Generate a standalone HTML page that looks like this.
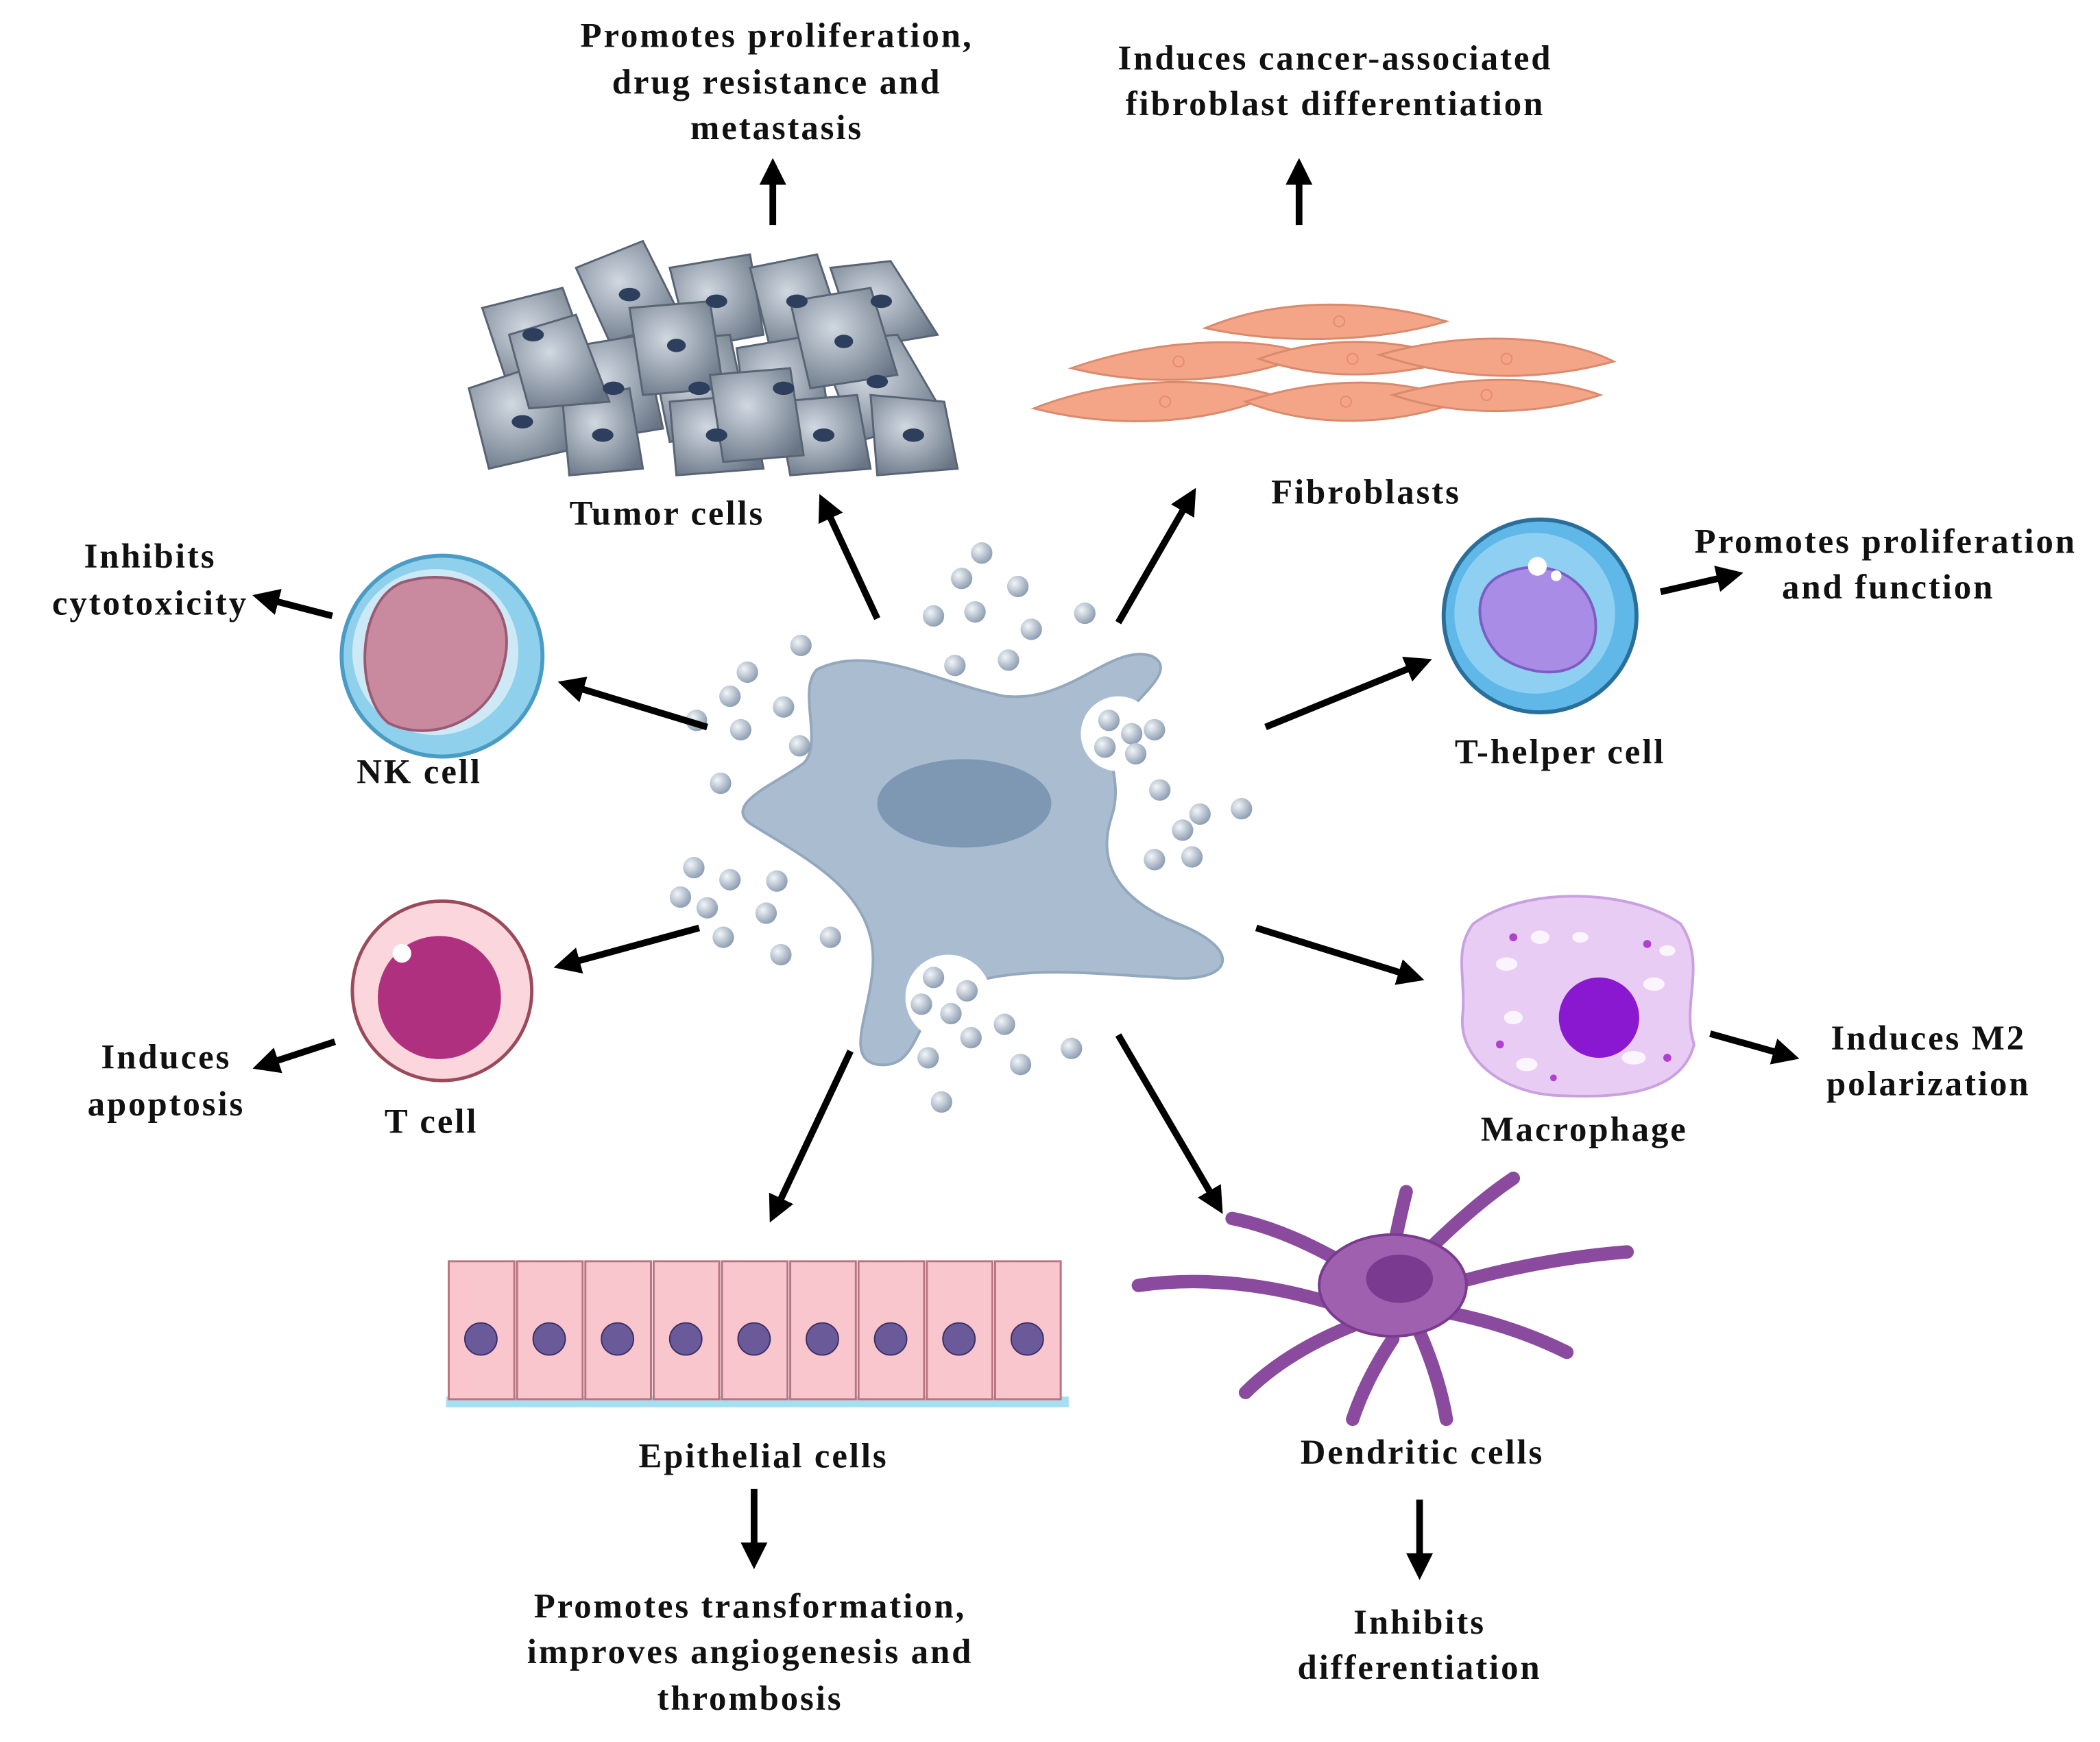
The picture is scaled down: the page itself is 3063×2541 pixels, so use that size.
<!DOCTYPE html>
<html><head><meta charset="utf-8"><style>
html,body{margin:0;padding:0;background:#fff}
svg{display:block}
text{font-family:"Liberation Serif",serif;font-weight:bold;font-size:26px;letter-spacing:1.5px;fill:#111;text-anchor:middle}
</style></head><body>
<svg width="3063" height="2541" viewBox="0 0 1568 1301" xmlns="http://www.w3.org/2000/svg">
<defs>
<marker id="ah" markerWidth="4" markerHeight="4" refX="2" refY="2" orient="auto" markerUnits="strokeWidth">
<path d="M0,0 L4,2 L0,4 z" fill="#000"/></marker>
<radialGradient id="ves" cx="0.35" cy="0.35" r="0.7"><stop offset="0" stop-color="#f2f5f8"/><stop offset="1" stop-color="#8a9bb0"/></radialGradient>
<radialGradient id="tum" cx="0.4" cy="0.4" r="0.7"><stop offset="0" stop-color="#c9d2dc"/><stop offset="1" stop-color="#4e5d70"/></radialGradient>
</defs>
<rect width="1568" height="1301" fill="#fff"/>

<!-- central cell -->
<path d="M610,500 C650,480 700,510 750,520 C800,525 830,480 860,490 C880,500 850,520 835,540 C820,560 840,580 830,610 C820,640 830,670 880,690 C930,710 920,735 870,730 C820,728 770,720 720,735 C680,750 690,800 655,795 C625,790 660,740 650,700 C640,660 600,640 560,615 C540,600 580,585 600,570 C615,555 595,515 610,500 Z" fill="#a9bcd0" stroke="#93a7bd" stroke-width="2"/>
<circle cx="835" cy="548" r="28" fill="#fff"/>
<circle cx="708" cy="745" r="32" fill="#fff"/>
<ellipse cx="720" cy="600" rx="65" ry="33" fill="#7e97b2"/>
<g fill="url(#ves)">
<circle cx="733" cy="413" r="8"/><circle cx="718" cy="432" r="8"/><circle cx="760" cy="438" r="8"/><circle cx="697" cy="460" r="8"/><circle cx="728" cy="457" r="8"/><circle cx="770" cy="470" r="8"/><circle cx="810" cy="458" r="8"/><circle cx="713" cy="497" r="8"/><circle cx="753" cy="493" r="8"/>
<circle cx="598" cy="482" r="8"/><circle cx="558" cy="502" r="8"/><circle cx="545" cy="520" r="8"/><circle cx="585" cy="528" r="8"/><circle cx="520" cy="538" r="8"/><circle cx="553" cy="545" r="8"/><circle cx="597" cy="557" r="8"/><circle cx="538" cy="585" r="8"/>
<circle cx="828" cy="538" r="8"/><circle cx="845" cy="548" r="8"/><circle cx="862" cy="545" r="8"/><circle cx="825" cy="558" r="8"/><circle cx="848" cy="563" r="8"/><circle cx="866" cy="590" r="8"/><circle cx="896" cy="608" r="8"/><circle cx="927" cy="604" r="8"/><circle cx="883" cy="620" r="8"/><circle cx="862" cy="642" r="8"/><circle cx="890" cy="640" r="8"/>
<circle cx="518" cy="648" r="8"/><circle cx="545" cy="657" r="8"/><circle cx="580" cy="658" r="8"/><circle cx="508" cy="670" r="8"/><circle cx="528" cy="678" r="8"/><circle cx="572" cy="682" r="8"/><circle cx="540" cy="700" r="8"/><circle cx="620" cy="700" r="8"/><circle cx="583" cy="713" r="8"/>
<circle cx="697" cy="730" r="8"/><circle cx="722" cy="740" r="8"/><circle cx="688" cy="750" r="8"/><circle cx="710" cy="757" r="8"/><circle cx="750" cy="765" r="8"/><circle cx="725" cy="775" r="8"/><circle cx="693" cy="790" r="8"/><circle cx="762" cy="795" r="8"/><circle cx="800" cy="783" r="8"/><circle cx="703" cy="823" r="8"/>
</g>

<!-- tumor cells -->
<g stroke="#3c4a5c" stroke-width="1.5" fill="url(#tum)" opacity="0.85">
<path d="M360,230 L420,215 L440,270 L380,290 Z"/><path d="M430,200 L480,180 L510,240 L455,255 Z"/><path d="M500,200 L560,190 L570,250 L515,260 Z"/><path d="M560,200 L610,190 L630,250 L575,260 Z"/><path d="M620,200 L665,195 L700,250 L640,260 Z"/>
<path d="M350,290 L410,270 L430,335 L365,350 Z"/><path d="M420,260 L480,250 L495,320 L435,330 Z"/><path d="M485,255 L545,250 L560,320 L500,330 Z"/><path d="M550,260 L610,250 L620,320 L560,330 Z"/><path d="M610,255 L670,250 L705,310 L640,330 Z"/>
<path d="M420,300 L470,290 L480,350 L425,355 Z"/><path d="M500,300 L560,295 L570,350 L505,355 Z"/><path d="M580,300 L640,295 L650,350 L590,355 Z"/><path d="M650,295 L705,300 L715,350 L655,355 Z"/>
<path d="M380,250 L430,235 L455,300 L395,305 Z"/><path d="M470,230 L530,225 L540,290 L480,295 Z"/><path d="M590,225 L650,215 L670,280 L605,290 Z"/><path d="M530,280 L590,275 L600,340 L540,345 Z"/>
</g>
<g fill="#2d3f5c">
<ellipse cx="398" cy="250" rx="8" ry="5"/><ellipse cx="470" cy="220" rx="8" ry="5"/><ellipse cx="535" cy="225" rx="8" ry="5"/><ellipse cx="595" cy="225" rx="8" ry="5"/><ellipse cx="658" cy="225" rx="8" ry="5"/><ellipse cx="390" cy="315" rx="8" ry="5"/><ellipse cx="458" cy="290" rx="8" ry="5"/><ellipse cx="522" cy="290" rx="8" ry="5"/><ellipse cx="585" cy="290" rx="8" ry="5"/><ellipse cx="655" cy="285" rx="8" ry="5"/><ellipse cx="450" cy="325" rx="8" ry="5"/><ellipse cx="535" cy="325" rx="8" ry="5"/><ellipse cx="615" cy="325" rx="8" ry="5"/><ellipse cx="682" cy="325" rx="8" ry="5"/><ellipse cx="505" cy="258" rx="7" ry="5"/><ellipse cx="630" cy="255" rx="7" ry="5"/>
</g>

<!-- fibroblasts -->
<g fill="#f4a587" stroke="#d98a6c" stroke-width="1.5">
<path d="M900,245 C960,220 1030,225 1080,240 C1030,255 960,258 900,245 Z"/>
<path d="M800,275 C870,250 950,252 975,265 C930,285 860,290 800,275 Z"/>
<path d="M940,268 C990,250 1040,252 1090,268 C1040,282 990,285 940,268 Z"/>
<path d="M1030,265 C1100,245 1170,252 1205,270 C1150,285 1090,285 1030,265 Z"/>
<path d="M772,305 C830,282 900,280 950,295 C900,318 830,320 772,305 Z"/>
<path d="M930,300 C990,280 1050,282 1090,300 C1040,318 980,320 930,300 Z"/>
<path d="M1040,295 C1100,278 1160,282 1195,295 C1150,310 1090,312 1040,295 Z"/>
</g>
<g fill="none" stroke="#e88a70"><circle cx="1000" cy="240" r="4"/><circle cx="880" cy="270" r="4"/><circle cx="1010" cy="268" r="4"/><circle cx="1125" cy="268" r="4"/><circle cx="870" cy="300" r="4"/><circle cx="1005" cy="300" r="4"/><circle cx="1110" cy="295" r="4"/></g>

<!-- NK cell -->
<circle cx="330" cy="490" r="75" fill="#8fd0ec" stroke="#4b9cc4" stroke-width="3"/>
<circle cx="325" cy="487" r="62" fill="#cde9f6"/>
<path d="M300,435 C350,420 390,450 375,500 C365,540 320,555 290,540 C265,520 265,450 300,435 Z" fill="#c98aa0" stroke="#9a5a74" stroke-width="2"/>
<!-- T-helper -->
<circle cx="1150" cy="460" r="72" fill="#5fb8e8" stroke="#2a6f9a" stroke-width="3"/>
<circle cx="1146" cy="458" r="60" fill="#8fd0f2"/>
<path d="M1120,430 C1160,410 1200,440 1190,480 C1180,510 1140,505 1120,490 C1100,470 1100,440 1120,430 Z" fill="#a98ce6" stroke="#7a5ec4" stroke-width="2"/>
<circle cx="1148" cy="423" r="7" fill="#fff"/><circle cx="1162" cy="430" r="4" fill="#fff"/>
<!-- T cell -->
<circle cx="330" cy="740" r="67" fill="#fbd6dc" stroke="#9a4a5a" stroke-width="2.5"/>
<circle cx="328" cy="745" r="46" fill="#b03080"/>
<circle cx="300" cy="712" r="7" fill="#fff"/>
<!-- Macrophage -->
<path d="M1100,690 C1140,660 1220,665 1255,690 C1275,720 1255,750 1265,780 C1255,820 1200,820 1160,818 C1120,815 1090,790 1092,760 C1095,730 1085,710 1100,690 Z" fill="#e8ccf4" stroke="#c9a0e0" stroke-width="2"/>
<g fill="#fff" opacity="0.8"><ellipse cx="1125" cy="720" rx="8" ry="5"/><ellipse cx="1150" cy="700" rx="7" ry="5"/><ellipse cx="1235" cy="735" rx="8" ry="5"/><ellipse cx="1220" cy="790" rx="9" ry="5"/><ellipse cx="1130" cy="760" rx="7" ry="5"/><ellipse cx="1180" cy="700" rx="6" ry="4"/><ellipse cx="1245" cy="710" rx="6" ry="4"/><ellipse cx="1140" cy="795" rx="8" ry="5"/></g>
<circle cx="1194" cy="760" r="30" fill="#8a18d0"/>
<g fill="#b040d0"><circle cx="1130" cy="700" r="3"/><circle cx="1230" cy="705" r="3"/><circle cx="1120" cy="780" r="3"/><circle cx="1245" cy="790" r="3"/><circle cx="1160" cy="805" r="2.5"/></g>
<!-- Epithelial -->
<rect x="333" y="1043" width="465" height="8" fill="#a8dff0"/>
<g fill="#f8c6cc" stroke="#b87480" stroke-width="1.5">
<rect x="335" y="942" width="49" height="103"/><rect x="386" y="942" width="49" height="103"/><rect x="437" y="942" width="49" height="103"/><rect x="488" y="942" width="49" height="103"/><rect x="539" y="942" width="49" height="103"/><rect x="590" y="942" width="49" height="103"/><rect x="641" y="942" width="49" height="103"/><rect x="692" y="942" width="49" height="103"/><rect x="743" y="942" width="49" height="103"/>
</g>
<g fill="#6a5a9a" stroke="#3c2f66"><circle cx="359" cy="1000" r="12"/><circle cx="410" cy="1000" r="12"/><circle cx="461" cy="1000" r="12"/><circle cx="512" cy="1000" r="12"/><circle cx="563" cy="1000" r="12"/><circle cx="614" cy="1000" r="12"/><circle cx="665" cy="1000" r="12"/><circle cx="716" cy="1000" r="12"/><circle cx="767" cy="1000" r="12"/></g>
<!-- Dendritic -->
<g stroke="#8a4a9e" stroke-width="10" stroke-linecap="round" fill="none">
<path d="M1030,960 Q970,920 920,910 M1000,975 Q920,950 850,960 M1010,990 Q960,1010 930,1040 M1040,1000 Q1020,1030 1010,1060 M1060,995 Q1075,1030 1080,1060 M1080,980 Q1130,990 1170,1010 M1080,960 Q1150,940 1215,935 M1060,940 Q1100,900 1130,880 M1040,935 Q1045,910 1050,890"/>
</g>
<ellipse cx="1040" cy="960" rx="55" ry="38" fill="#a060b0" stroke="#7a3a8e" stroke-width="2"/>
<ellipse cx="1045" cy="955" rx="25" ry="18" fill="#7a3a90"/>

<!-- arrows -->
<g stroke="#000" stroke-width="5" fill="none" marker-end="url(#ah)">
<line x1="577" y1="168" x2="577" y2="128"/><line x1="970" y1="168" x2="970" y2="128"/>
<line x1="655" y1="462" x2="616" y2="378"/><line x1="835" y1="465" x2="888" y2="373"/>
<line x1="528" y1="543" x2="426" y2="512"/><line x1="248" y1="460" x2="198" y2="447"/>
<line x1="945" y1="543" x2="1060" y2="496"/><line x1="1240" y1="442" x2="1292" y2="430"/>
<line x1="522" y1="693" x2="423" y2="720"/><line x1="250" y1="778" x2="198" y2="795"/>
<line x1="938" y1="693" x2="1054" y2="729"/><line x1="1277" y1="772" x2="1334" y2="788"/>
<line x1="635" y1="785" x2="579" y2="904"/><line x1="835" y1="773" x2="908" y2="898"/>
<line x1="563" y1="1112" x2="563" y2="1162"/><line x1="1060" y1="1120" x2="1060" y2="1170"/>
</g>

<!-- labels -->
<text x="580" y="35">Promotes proliferation,</text><text x="580" y="70">drug resistance and</text><text x="580" y="104">metastasis</text>
<text x="997" y="52">Induces cancer-associated</text><text x="997" y="86">fibroblast differentiation</text>
<text x="498" y="392">Tumor cells</text>
<text x="1020" y="376">Fibroblasts</text>
<text x="112" y="424">Inhibits</text><text x="112" y="459">cytotoxicity</text>
<text x="1408" y="413">Promotes proliferation</text><text x="1410" y="447">and function</text>
<text x="313" y="585">NK cell</text>
<text x="1165" y="570">T-helper cell</text>
<text x="124" y="798">Induces</text><text x="124" y="833">apoptosis</text>
<text x="322" y="846">T cell</text>
<text x="1440" y="784">Induces M2</text><text x="1440" y="818">polarization</text>
<text x="1183" y="852">Macrophage</text>
<text x="570" y="1096">Epithelial cells</text>
<text x="1062" y="1093">Dendritic cells</text>
<text x="560" y="1208">Promotes transformation,</text><text x="560" y="1242">improves angiogenesis and</text><text x="560" y="1277">thrombosis</text>
<text x="1060" y="1220">Inhibits</text><text x="1060" y="1254">differentiation</text>
</svg>
</body></html>
